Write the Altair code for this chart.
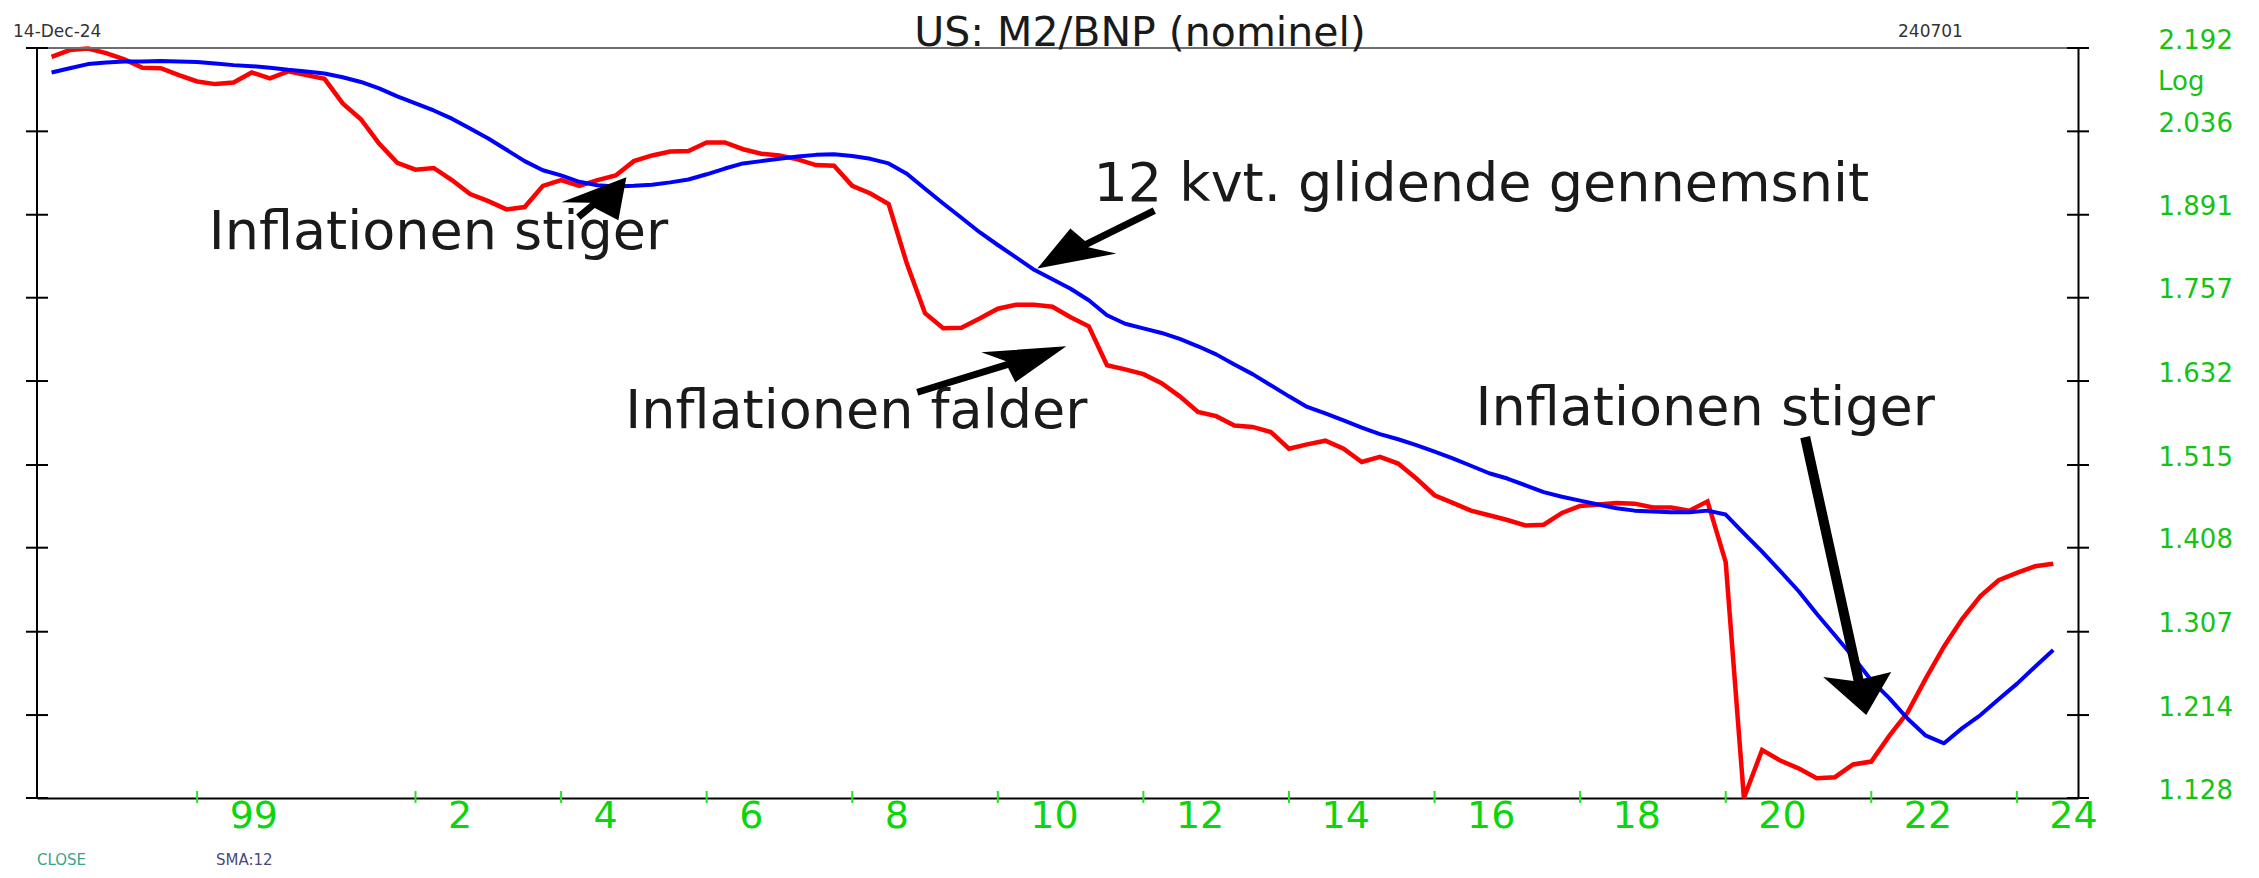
import altair as alt
import pandas as pd

# ---------------- data ----------------
first_quarter = 1997.0  # 1997-01-01, quarterly observations up to 2024-07-01

close = [
    2.175, 2.188, 2.191, 2.182, 2.170, 2.154, 2.153, 2.140, 2.128, 2.123,
    2.126, 2.145, 2.134, 2.147, 2.140, 2.133, 2.087, 2.058, 2.014, 1.980,
    1.968, 1.971, 1.950, 1.926, 1.914, 1.900, 1.904, 1.940, 1.950, 1.940,
    1.950, 1.958, 1.983, 1.993, 2.000, 2.001, 2.016, 2.016, 2.004, 1.996,
    1.993, 1.986, 1.976, 1.975, 1.940, 1.927, 1.909, 1.811, 1.733, 1.710,
    1.711, 1.725, 1.740, 1.746, 1.746, 1.743, 1.727, 1.713, 1.655, 1.649,
    1.642, 1.629, 1.610, 1.588, 1.582, 1.569, 1.567, 1.560, 1.537, 1.543,
    1.548, 1.537, 1.519, 1.526, 1.517, 1.497, 1.475, 1.465, 1.455, 1.449,
    1.443, 1.436, 1.437, 1.452, 1.461, 1.463, 1.465, 1.464, 1.459, 1.459,
    1.455, 1.467, 1.390, 1.128, 1.177, 1.166, 1.158, 1.148, 1.149, 1.162,
    1.165, 1.192, 1.217, 1.254, 1.290, 1.322, 1.349, 1.368, 1.377, 1.385,
    1.388,
]

sma12 = [
    2.145, 2.153, 2.161, 2.164, 2.166, 2.166, 2.167, 2.166, 2.165, 2.162,
    2.159, 2.157, 2.154, 2.150, 2.147, 2.143, 2.136, 2.127, 2.115, 2.100,
    2.087, 2.074, 2.059, 2.041, 2.023, 2.003, 1.983, 1.967, 1.958, 1.947,
    1.941, 1.939, 1.940, 1.942, 1.946, 1.951, 1.960, 1.970, 1.979, 1.983,
    1.987, 1.991, 1.994, 1.995, 1.992, 1.987, 1.979, 1.961, 1.935, 1.910,
    1.886, 1.862, 1.841, 1.821, 1.801, 1.786, 1.771, 1.753, 1.730, 1.717,
    1.710, 1.703, 1.694, 1.683, 1.671, 1.656, 1.642, 1.626, 1.610, 1.595,
    1.586, 1.576, 1.566, 1.557, 1.550, 1.542, 1.533, 1.524, 1.514, 1.504,
    1.497, 1.488, 1.479, 1.473, 1.468, 1.463, 1.458, 1.455, 1.454, 1.453,
    1.453, 1.455, 1.450, 1.426, 1.403, 1.379, 1.355, 1.328, 1.303, 1.278,
    1.252, 1.232, 1.210, 1.192, 1.184, 1.200, 1.214, 1.231, 1.248, 1.267,
    1.286,
]

quarters = [first_quarter + i / 4 for i in range(len(close))]

y_tick_values = [1.128, 1.214, 1.307, 1.408, 1.515, 1.632, 1.757, 1.891, 2.036, 2.192]
x_tick_years = [1999, 2002, 2004, 2006, 2008, 2010, 2012, 2014, 2016, 2018, 2020, 2022, 2024]
x_tick_labels = ["99", "2", "4", "6", "8", "10", "12", "14", "16", "18", "20", "22", "24"]

title_text = "US: M2/BNP (nominel)"
ann_texts = ["Inflationen stiger", "12 kvt. glidende gennemsnit",
             "Inflationen falder", "Inflationen stiger"]
ann_years = [2002.315, 2016.642, 2008.056, 2019.719]
ann_values = [1.834, 1.915, 1.565, 1.569]

arrow_tip_years = [2004.897, 2010.543, 2010.941, 2021.930]
arrow_tip_values = [1.955, 1.803, 1.683, 1.214]

# ---------------- styles ----------------
FONT = "DejaVu Sans"
W, H = 2041, 750
GREEN_Y = "#14c314"
GREEN_X = "#0bd60b"

# arrow outlines in pixels, tip at origin (symbol size 4 -> 1 unit = 1 px)
arrow_paths = [
    "M0,0 L-65,25 L-36,25.5 L-50.2,37.3 L-45.8,42.7 L-31.6,30.9 L-8,43 Z",
    "M0,0 L33,-40 L47.7,-27.5 L115.4,-61.1 L118.6,-54.9 L50.8,-21.3 L79,-15 Z",
    "M0,0 L-85,6 L-60.2,15 L-150,42.7 L-148,49.3 L-58.2,21.6 L-51,36 Z",
    "M0,0 L-43,-38 L-12.6,-34.1 L-65.9,-276.9 L-56.1,-279.1 L-2.8,-36.3 L25,-43 Z",
]

label_expr = " : ".join(
    f"datum.value == {y} ? '{l}'" for y, l in zip(x_tick_years, x_tick_labels)
) + " : ''"

xs = alt.Scale(domain=[1996.8, 2024.84], nice=False, zero=False)
ys = alt.Scale(type="log", domain=[1.128, 2.192], nice=False)

xaxis = alt.Axis(
    values=x_tick_years, labelExpr=label_expr, labelAlign="left",
    labelBaseline="alphabetic", labelOffset=32, labelPadding=29,
    labelFont=FONT, labelFontSize=38, labelColor=GREEN_X,
    ticks=False, tickSize=0, domain=True, domainColor="black", domainWidth=2,
    grid=False, title=None, labelOverlap=False, labelFlush=False,
)
yaxis = alt.Axis(
    orient="right", values=y_tick_values, format=".3f", labelAlign="left",
    labelBaseline="alphabetic", labelPadding=80, labelFont=FONT,
    labelFontSize=26, labelColor=GREEN_Y, ticks=False, tickSize=0,
    domain=True, domainColor="black", domainWidth=2, grid=False, title=None,
    labelOverlap=False, labelFlush=False,
)
X = alt.X("year:Q", scale=xs, axis=xaxis)
Y = alt.Y("value:Q", scale=ys, axis=yaxis)

red_df = pd.DataFrame({"year": quarters, "value": close})
blue_df = pd.DataFrame({"year": quarters, "value": sma12})

red = alt.Chart(red_df).mark_line(color="#ff0000", strokeWidth=4.5,
                                  strokeJoin="miter").encode(x=X, y=Y)
blue = alt.Chart(blue_df).mark_line(color="#0000ff", strokeWidth=4,
                                    strokeJoin="round").encode(x=X, y=Y)

yt_df = pd.DataFrame({"value": y_tick_values})
left_ticks = alt.Chart(yt_df).mark_tick(
    orient="horizontal", size=22, thickness=2, color="black", opacity=1
).encode(y=Y, x=alt.value(0))
right_ticks = alt.Chart(yt_df).mark_tick(
    orient="horizontal", size=22, thickness=2, color="black", opacity=1
).encode(y=Y, x=alt.value(W))

xt_df = pd.DataFrame({"year": x_tick_years})
x_ticks = alt.Chart(xt_df).mark_tick(
    orient="vertical", size=12, thickness=2, color="#22e622", opacity=1
).encode(x=X, y=alt.value(H - 1))

dummy = pd.DataFrame({"k": [0]})
top_line = alt.Chart(pd.DataFrame({"value": [y_tick_values[-1]]})).mark_rule(
    color="#6e6e6e", strokeWidth=2
).encode(y=Y, x=alt.value(-11), x2=alt.value(W + 11))
left_line = alt.Chart(dummy).mark_rule(color="black", strokeWidth=2).encode(
    x=alt.value(0), y=alt.value(0), y2=alt.value(H)
)


def ftext(text, x, y, size, color, align="left"):
    return alt.Chart(dummy).mark_text(
        text=text, font=FONT, fontSize=size, color=color, align=align,
        baseline="alphabetic"
    ).encode(x=alt.value(x), y=alt.value(y))


title = ftext(title_text, 1103, -2, 41, "#1a1a1a", "center")
date_txt = ftext("14-Dec-24", -24, -11, 17, "#333333")
code_txt = ftext("240701", 1861, -11, 17, "#333333")
log_txt = ftext("Log", W + 80, 42, 26, GREEN_Y)
close_txt = ftext("CLOSE", 0, 817, 15, "#3aa58a")
sma_txt = ftext("SMA:12", 179, 817, 15, "#4a4a7a")

ann_df = pd.DataFrame({"year": ann_years, "value": ann_values, "label": ann_texts})
annotations = alt.Chart(ann_df).mark_text(
    font=FONT, fontSize=54, color="#1a1a1a", align="center",
    baseline="alphabetic"
).encode(x=X, y=Y, text="label:N")

arrows = []
for yr, val, path in zip(arrow_tip_years, arrow_tip_values, arrow_paths):
    arrows.append(
        alt.Chart(pd.DataFrame({"year": [yr], "value": [val]})).mark_point(
            shape=path, size=4, filled=True, color="black", opacity=1,
            strokeWidth=0
        ).encode(x=X, y=Y)
    )

chart = alt.layer(
    red, blue, top_line, left_line, left_ticks, right_ticks, x_ticks,
    annotations, *arrows, title, date_txt, code_txt, log_txt, close_txt, sma_txt
).properties(
    width=W, height=H,
    autosize=alt.AutoSizeParams(type="none"),
    padding={"left": 29, "top": 40, "right": 173, "bottom": 72},
    background="white",
).configure_view(stroke=None)

chart.save("out.html", embed_options={"renderer": "svg", "actions": False})
